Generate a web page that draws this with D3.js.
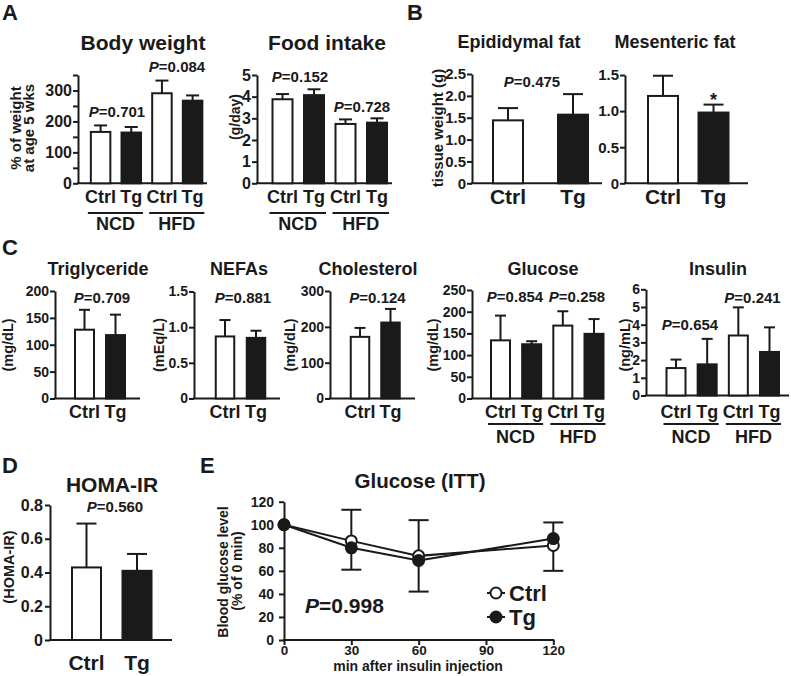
<!DOCTYPE html>
<html><head><meta charset="utf-8">
<script src="https://cdn.jsdelivr.net/npm/d3@7"></script>
<style>
body{margin:0;background:#fff}
svg{display:block;font-family:'Liberation Sans',Arial,Helvetica,sans-serif;font-weight:bold}
</style></head><body><svg id="fig" width="791" height="676"></svg>
<script>
// ---------------- DATA ----------------
const dietCats = ["Ctrl", "Tg", "Ctrl", "Tg"];
const pairCats = ["Ctrl", "Tg"];
const diets = ["NCD", "HFD"];

const bodyWeight = [166, 164, 291, 267];
const bodyWeightErr = [21, 18, 41, 17];
const bodyWeightP = ["0.701", "0.084"];
const bodyWeightTicks = [0, 50, 100, 150, 200, 250, 300, 350];
const bodyWeightLabels = [0, 100, 200, 300];

const foodIntake = [3.88, 4.07, 2.74, 2.80];
const foodIntakeErr = [0.24, 0.27, 0.21, 0.20];
const foodIntakeP = ["0.152", "0.728"];
const foodTicks = [0, 1, 2, 3, 4, 5];

const epiFat = [1.44, 1.57];
const epiFatErr = [0.28, 0.47];
const epiFatP = ["0.475"];
const epiTicks = [0, 0.5, 1.0, 1.5, 2.0, 2.5];

const mesFat = [1.21, 0.98];
const mesFatErr = [0.28, 0.11];
const mesTicks = [0, 0.5, 1.0, 1.5];

const triglyceride = [128, 118];
const triglycerideErr = [37, 38];
const triglycerideP = ["0.709"];
const trigTicks = [0, 50, 100, 150, 200];

const nefas = [0.87, 0.85];
const nefasErr = [0.23, 0.10];
const nefasP = ["0.881"];
const nefaTicks = [0, 0.5, 1.0, 1.5];

const cholesterol = [172, 212];
const cholesterolErr = [25, 38];
const cholesterolP = ["0.124"];
const cholTicks = [0, 100, 200, 300];

const glucose = [134, 125, 168, 149];
const glucoseErr = [57, 7, 33, 34];
const glucoseP = ["0.854", "0.258"];
const glucoseTicks = [0, 50, 100, 150, 200, 250];

const insulin = [1.55, 1.76, 3.39, 2.46];
const insulinErr = [0.48, 1.44, 1.59, 1.39];
const insulinP = ["0.654", "0.241"];
const insulinTicks = [0, 1, 2, 3, 4, 5, 6];

const homaIR = [0.43, 0.41];
const homaIRErr = [0.26, 0.10];
const homaIRP = ["0.560"];
const homaTicks = [0, 0.2, 0.4, 0.6, 0.8];

const ittTimes = [0, 30, 60, 120];
const ittCtrl = [100, 86, 73, 82];
const ittTg = [100, 80, 69, 88];
const ittCtrlErr = [0, 27, 31, 22];
const ittTgErr = [0, 19, 27, 14];
const ittP = "0.998";
const ittXTicks = [0, 30, 60, 90, 120];
const ittYTicks = [0, 20, 40, 60, 80, 100, 120];

// ---------------- DRAWING ----------------
const INK = "#1a1a1a";
const svg = d3.select("#fig");
const fmt0 = d3.format("d");
const fmt1 = d => d === 0 ? "0" : d3.format(".1f")(d);

function txt(g, x, y, s, size, anchor = "middle") {
  return g.append("text").attr("x", x).attr("y", y).attr("text-anchor", anchor)
    .attr("font-size", size).attr("fill", INK).text(s);
}
function pText(g, x, y, val, size, anchor = "middle") {
  const t = g.append("text").attr("x", x).attr("y", y).attr("text-anchor", anchor)
    .attr("font-size", size).attr("fill", INK);
  t.append("tspan").attr("font-style", "italic").text("P");
  t.append("tspan").text("=" + val);
}
function yLabel(g, x, y, s, size) {
  g.append("text").attr("transform", `translate(${x},${y}) rotate(-90)`)
    .attr("text-anchor", "middle").attr("dy", "0.35em").attr("font-size", size)
    .attr("fill", INK).text(s);
}
function styleAxis(a, size) {
  a.attr("font-family", null).attr("font-size", null);
  a.select(".domain").attr("stroke", INK).attr("stroke-width", 2);
  a.selectAll(".tick line").attr("stroke", INK).attr("stroke-width", 2);
  a.selectAll(".tick text").attr("fill", INK).attr("font-size", size);
}

function barPanel(p) {
  const g = svg.append("g");
  const y = d3.scaleLinear().domain([0, p.yMax]).range([p.base, p.top]);
  const x = d3.scalePoint().domain(d3.range(p.values.length)).range(p.centers);
  const labels = p.labels || p.ticks;
  const ax = d3.axisLeft(y).tickValues(p.ticks).tickSize(5).tickSizeOuter(0)
    .tickPadding(p.pad).tickFormat(d => labels.includes(d) ? p.fmt(d) : "");
  const a = g.append("g").attr("transform", `translate(${p.left},0)`).call(ax);
  styleAxis(a, p.tickFont);
  g.append("line").attr("x1", p.left - 1).attr("x2", p.right)
    .attr("y1", p.base).attr("y2", p.base).attr("stroke", INK).attr("stroke-width", 2);

  const n = p.values.length;
  const fills = d3.range(n).map(i => i % 2 === 0 ? "#ffffff" : INK);
  g.selectAll("rect.bar").data(p.values).join("rect").attr("class", "bar")
    .attr("x", (d, i) => x(i) - p.barW / 2).attr("width", p.barW)
    .attr("y", d => y(d)).attr("height", d => p.base - y(d))
    .attr("fill", (d, i) => fills[i]).attr("stroke", INK).attr("stroke-width", 2);
  p.values.forEach((v, i) => {
    const yt = y(v + p.errs[i]);
    g.append("line").attr("x1", x(i)).attr("x2", x(i)).attr("y1", y(v)).attr("y2", yt)
      .attr("stroke", INK).attr("stroke-width", 2);
    g.append("line").attr("x1", x(i) - p.capW / 2).attr("x2", x(i) + p.capW / 2)
      .attr("y1", yt).attr("y2", yt).attr("stroke", INK).attr("stroke-width", 2);
    txt(g, x(i), p.catY, p.cats[i], p.catFont);
  });
  if (p.groups) {
    p.groups.forEach((gname, k) => {
      const x0 = x(2 * k) - p.barW / 2 - 3, x1 = x(2 * k + 1) + p.barW / 2 + 2;
      g.append("line").attr("x1", x0).attr("x2", x1).attr("y1", p.lineY).attr("y2", p.lineY)
        .attr("stroke", INK).attr("stroke-width", 2);
      txt(g, (x0 + x1) / 2, p.groupY, gname, 18);
    });
  }
  txt(g, p.titleX, p.titleY, p.title, p.titleFont);
  p.ylab.forEach((s, k) => yLabel(g, p.ylabX[k], p.ylabY, s, p.ylabFont));
  (p.pvals || []).forEach((v, k) => pText(g, p.pPos[k][0], p.pPos[k][1], v, 15));
  return { g, x, y };
}

// panel letters
txt(svg, 2, 20, "A", 22, "start");
txt(svg, 407, 20, "B", 22, "start");
txt(svg, 2, 255, "C", 22, "start");
txt(svg, 2, 473, "D", 22, "start");
txt(svg, 200, 473, "E", 22, "start");

// A: Body weight
barPanel({
  left: 78, right: 207, base: 183.3, top: 75, yMax: 350,
  ticks: bodyWeightTicks, labels: bodyWeightLabels, fmt: fmt0, pad: 1, tickFont: 16,
  values: bodyWeight, errs: bodyWeightErr, centers: [100.6, 192.6], barW: 19.5, capW: 13,
  cats: dietCats, catY: 203, catFont: 18, groups: diets, lineY: 213, groupY: 230,
  title: "Body weight", titleX: 143, titleY: 50, titleFont: 21,
  ylab: ["% of weight", "at age 5 wks"], ylabX: [15.5, 28.5], ylabY: 128, ylabFont: 15,
  pvals: bodyWeightP, pPos: [[117, 117], [177, 72]]
});
// A: Food intake
barPanel({
  left: 257, right: 392, base: 183.3, top: 75, yMax: 5,
  ticks: foodTicks, fmt: fmt0, pad: 1, tickFont: 16,
  values: foodIntake, errs: foodIntakeErr, centers: [282.5, 377], barW: 20, capW: 13,
  cats: dietCats, catY: 203, catFont: 18, groups: diets, lineY: 213, groupY: 230,
  title: "Food intake", titleX: 327, titleY: 50, titleFont: 21,
  ylab: ["(g/day)"], ylabX: [235], ylabY: 117, ylabFont: 14,
  pvals: foodIntakeP, pPos: [[300, 82], [362, 112]]
});
// B: Epididymal fat
barPanel({
  left: 472, right: 602, base: 183.3, top: 74, yMax: 2.5,
  ticks: epiTicks, fmt: fmt1, pad: 1, tickFont: 15,
  values: epiFat, errs: epiFatErr, centers: [508, 573], barW: 30, capW: 20,
  cats: pairCats, catY: 204, catFont: 21,
  title: "Epididymal fat", titleX: 519, titleY: 48, titleFont: 18,
  ylab: ["tissue weight (g)"], ylabX: [438], ylabY: 128, ylabFont: 15,
  pvals: epiFatP, pPos: [[532, 87]]
});
// B: Mesenteric fat
const mes = barPanel({
  left: 625, right: 748, base: 183.3, top: 75, yMax: 1.5,
  ticks: mesTicks, fmt: fmt1, pad: 1, tickFont: 15,
  values: mesFat, errs: mesFatErr, centers: [663, 713.5], barW: 30, capW: 20,
  cats: pairCats, catY: 204, catFont: 21,
  title: "Mesenteric fat", titleX: 675, titleY: 48, titleFont: 18,
  ylab: [], ylabX: [], ylabY: 0, ylabFont: 15
});
txt(mes.g, mes.x(1), mes.y(mesFat[1] + mesFatErr[1]), "*", 18).attr("dy", "0.05em");

// C row
const cRow = { base: 398.5, catY: 418, catFont: 18, titleY: 275, titleFont: 18, tickFont: 14, ylabY: 345, ylabFont: 14.5, pad: 1 };
barPanel(Object.assign({}, cRow, {
  left: 55, right: 140, top: 291, yMax: 200, ticks: trigTicks, fmt: fmt0,
  values: triglyceride, errs: triglycerideErr, centers: [84.5, 115.5], barW: 19, capW: 11,
  cats: pairCats, title: "Triglyceride", titleX: 98, ylab: ["(mg/dL)"], ylabX: [8],
  pvals: triglycerideP, pPos: [[102, 302.5]]
}));
barPanel(Object.assign({}, cRow, {
  left: 194, right: 280, top: 291.5, yMax: 1.5, ticks: nefaTicks, fmt: fmt1,
  values: nefas, errs: nefasErr, centers: [225, 256], barW: 18.5, capW: 11,
  cats: pairCats, title: "NEFAs", titleX: 239, ylab: ["(mEq/L)"], ylabX: [158.5],
  pvals: nefasP, pPos: [[243, 302.5]]
}));
barPanel(Object.assign({}, cRow, {
  left: 330, right: 415, top: 291, yMax: 300, ticks: cholTicks, fmt: fmt0,
  values: cholesterol, errs: cholesterolErr, centers: [360, 390.5], barW: 18.5, capW: 11,
  cats: pairCats, title: "Cholesterol", titleX: 368, ylab: ["(mg/dL)"], ylabX: [290],
  pvals: cholesterolP, pPos: [[377.5, 302.5]]
}));
barPanel(Object.assign({}, cRow, {
  left: 472, right: 604, top: 290, yMax: 250, ticks: glucoseTicks, fmt: fmt0,
  values: glucose, errs: glucoseErr, centers: [500.5, 594], barW: 19, capW: 11,
  cats: dietCats, groups: diets, lineY: 424, groupY: 443,
  title: "Glucose", titleX: 543, ylab: ["(mg/dL)"], ylabX: [433],
  pvals: glucoseP, pPos: [[515, 302], [577, 302]]
}));
barPanel(Object.assign({}, cRow, {
  left: 646, right: 789, base: 395.5, top: 289.3, yMax: 6, ticks: insulinTicks, fmt: fmt0,
  values: insulin, errs: insulinErr, centers: [676, 769.5], barW: 19, capW: 11,
  cats: dietCats, groups: diets, lineY: 424, groupY: 443,
  title: "Insulin", titleX: 718, ylab: ["(ng/mL)"], ylabX: [625],
  pvals: insulinP, pPos: [[690, 330], [752.5, 302.5]]
}));

// D: HOMA-IR
barPanel({
  left: 50, right: 172, base: 640, top: 505, yMax: 0.8,
  ticks: homaTicks, fmt: fmt1, pad: 2, tickFont: 16,
  values: homaIR, errs: homaIRErr, centers: [86.5, 137], barW: 29, capW: 20,
  cats: pairCats, catY: 670, catFont: 21,
  title: "HOMA-IR", titleX: 112, titleY: 492, titleFont: 21,
  ylab: ["(HOMA-IR)"], ylabX: [9], ylabY: 567, ylabFont: 14.5,
  pvals: homaIRP, pPos: [[115, 511.5]]
});

// E: Glucose (ITT)
(function () {
  const g = svg.append("g");
  const x = d3.scaleLinear().domain([0, 120]).range([284, 553.3]);
  const y = d3.scaleLinear().domain([0, 120]).range([640, 501.7]);
  const ay = g.append("g").attr("transform", "translate(284,0)")
    .call(d3.axisLeft(y).tickValues(ittYTicks).tickSize(5).tickSizeOuter(0).tickPadding(5).tickFormat(fmt0));
  styleAxis(ay, 14);
  const ax = g.append("g").attr("transform", "translate(0,640)")
    .call(d3.axisBottom(x).tickValues(ittXTicks).tickSize(5).tickSizeOuter(0).tickPadding(0).tickFormat(fmt0));
  styleAxis(ax, 13.5);
  ax.select(".domain").remove();
  g.append("line").attr("x1", 283).attr("x2", x(120) + 1).attr("y1", 640).attr("y2", 640)
    .attr("stroke", INK).attr("stroke-width", 2);

  const series = [
    { m: ittCtrl, e: ittCtrlErr, other: ittTg, fill: "#ffffff" },
    { m: ittTg, e: ittTgErr, other: ittCtrl, fill: INK }
  ];
  const line = d3.line().x((d, i) => x(ittTimes[i])).y(d => y(d));
  series.forEach(s => g.append("path").attr("d", line(s.m)).attr("fill", "none")
    .attr("stroke", INK).attr("stroke-width", 2));
  series.forEach(s => {
    s.m.forEach((v, i) => {
      if (!s.e[i]) return;
      const dir = v >= s.other[i] ? 1 : -1;
      const ye = y(v + dir * s.e[i]);
      const xc = x(ittTimes[i]);
      g.append("line").attr("x1", xc).attr("x2", xc).attr("y1", y(v)).attr("y2", ye)
        .attr("stroke", INK).attr("stroke-width", 2);
      g.append("line").attr("x1", xc - 10).attr("x2", xc + 10).attr("y1", ye).attr("y2", ye)
        .attr("stroke", INK).attr("stroke-width", 2);
    });
  });
  series.forEach(s => {
    g.selectAll(null).data(s.m).join("circle")
      .attr("cx", (d, i) => x(ittTimes[i])).attr("cy", d => y(d)).attr("r", 5.5)
      .attr("fill", s.fill).attr("stroke", INK).attr("stroke-width", 2);
  });

  txt(g, 420, 488, "Glucose (ITT)", 20.5);
  txt(g, 418, 671, "min after insulin injection", 14);
  yLabel(g, 223, 572, "Blood glucose level", 14);
  yLabel(g, 237.5, 571, "(% of 0 min)", 14);
  pText(g, 305, 613, ittP, 21, "start");

  // legend
  [["Ctrl", "#ffffff", 593], ["Tg", INK, 617]].forEach(([lab, f, ly]) => {
    g.append("line").attr("x1", 487).attr("x2", 505).attr("y1", ly).attr("y2", ly)
      .attr("stroke", INK).attr("stroke-width", 2);
    g.append("circle").attr("cx", 496).attr("cy", ly).attr("r", 5.5)
      .attr("fill", f).attr("stroke", INK).attr("stroke-width", 2);
    txt(g, 509, ly, lab, 22, "start").attr("dy", "0.36em");
  });
})();
</script></body></html>
